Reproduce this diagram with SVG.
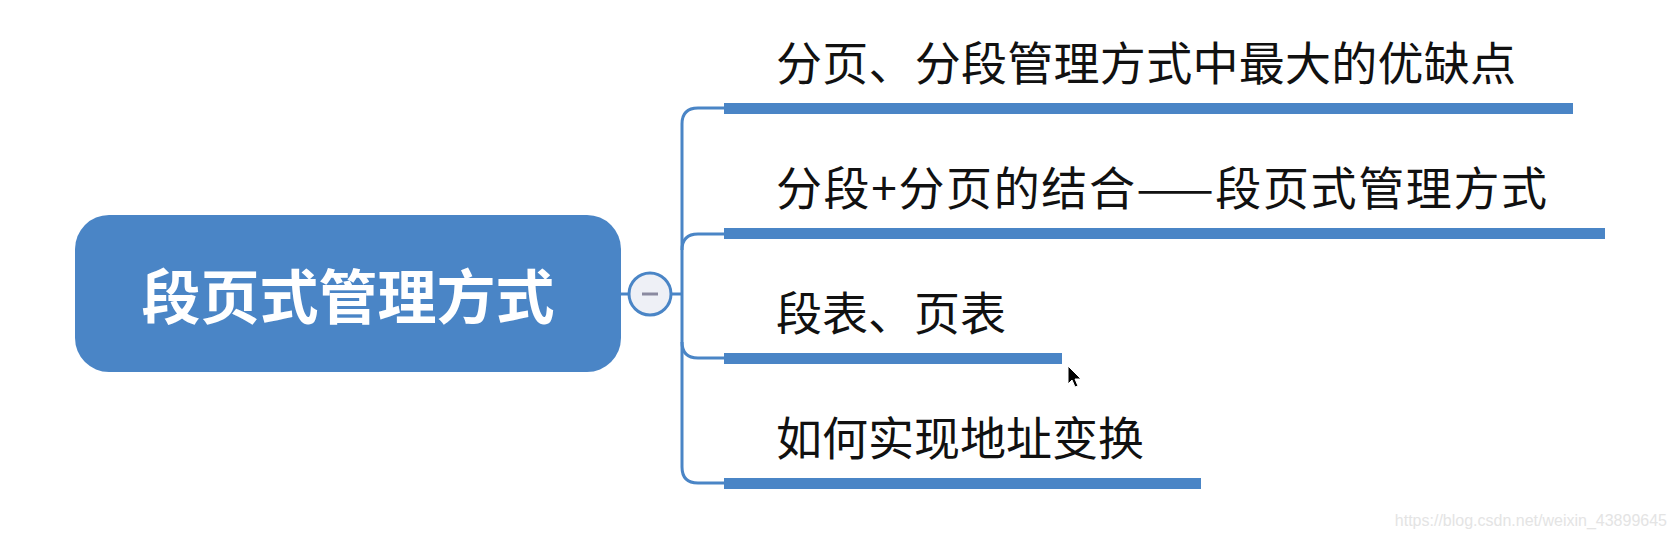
<svg xmlns="http://www.w3.org/2000/svg" width="1677" height="539" viewBox="0 0 1677 539">
<style>
.bar{fill:#4a85c6;}
.conn{fill:none;stroke:#4a85c6;stroke-width:3;}
.topic{font-family:"Noto Sans CJK SC","Liberation Sans",sans-serif;font-size:46px;fill:#111;}
.root{font-family:"Noto Sans CJK SC","Liberation Sans",sans-serif;font-size:59px;font-weight:bold;fill:#fff;}
</style>
<rect width="1677" height="539" fill="#fff"/>
<g id="connectors">
<path class="conn" d="M621,294 H628"/>
<path class="conn" d="M672,294 H682"/>
<path class="conn" d="M724,108 H698 Q682,108 682,124 V467 Q682,483 698,483 H724"/>
<path class="conn" d="M682,250 Q682,234 698,234 H724"/>
<path class="conn" d="M682,342 Q682,358 698,358 H724"/>
</g>
<g id="root">
<rect x="75" y="215" width="546" height="157" rx="34" ry="34" fill="#4a85c6"/>
<text class="root" x="348" y="319" text-anchor="middle">段页式管理方式</text>
</g>
<g id="collapse">
<circle cx="650" cy="294" r="21" fill="#eef0f6" stroke="#4a85c6" stroke-width="3"/>
<line x1="642" y1="294" x2="658" y2="294" stroke="#8a8aa0" stroke-width="3"/>
</g>
<g id="topic1">
<text class="topic" x="776" y="80" textLength="740" lengthAdjust="spacing">分页、分段管理方式中最大的优缺点</text>
<rect class="bar" x="724" y="103" width="849" height="11"/>
</g>
<g id="topic2">
<text class="topic" x="776" y="205" textLength="771" lengthAdjust="spacing">分段+分页的结合——段页式管理方式</text>
<rect class="bar" x="724" y="228" width="881" height="11"/>
</g>
<g id="topic3">
<text class="topic" x="776" y="330">段表、页表</text>
<rect class="bar" x="724" y="353" width="338" height="11"/>
</g>
<g id="topic4">
<text class="topic" x="776" y="455">如何实现地址变换</text>
<rect class="bar" x="724" y="478" width="477" height="11"/>
</g>
<polygon points="1068,366 1068,384 1072,380 1075,387 1078,386 1075,379 1081,379" fill="#000" stroke="#fff" stroke-width="1"/>
<text x="1667" y="526" text-anchor="end" font-family="Liberation Sans, sans-serif" font-size="16" fill="#e4e4e4">https://blog.csdn.net/weixin_43899645</text>
</svg>
